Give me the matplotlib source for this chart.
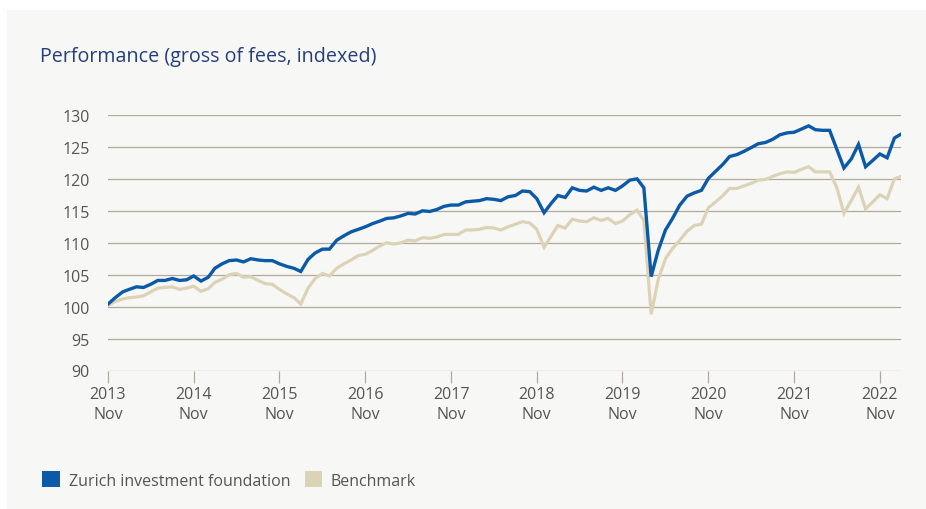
import matplotlib
matplotlib.use("Agg")
import matplotlib.pyplot as plt
from matplotlib.patches import Patch, Rectangle
import pandas as pd

# monthly index levels, Nov 2013 = start
months = pd.date_range("2013-11-30", periods=112, freq="ME")

foundation = [
    100.4, 101.4, 102.3, 102.7, 103.1, 103.0, 103.5, 104.1, 104.1, 104.4,
    104.1, 104.2, 104.8, 104.0, 104.6, 106.0, 106.7, 107.2, 107.3, 107.0,
    107.5, 107.3, 107.2, 107.2, 106.7, 106.3, 106.0, 105.5, 107.4, 108.4,
    109.0, 109.0, 110.4, 111.1, 111.7, 112.1, 112.5, 113.0, 113.4, 113.8,
    113.9, 114.2, 114.6, 114.5, 115.0, 114.9, 115.2, 115.7, 115.9, 115.9,
    116.4, 116.5, 116.6, 116.9, 116.8, 116.6, 117.2, 117.4, 118.1, 118.0,
    116.9, 114.7, 116.2, 117.4, 117.1, 118.6, 118.2, 118.1, 118.7, 118.2,
    118.6, 118.2, 118.9, 119.8, 120.0, 118.6, 104.7, 108.8, 112.0, 113.8,
    115.9, 117.3, 117.8, 118.2, 120.1, 121.2, 122.3, 123.5, 123.8, 124.3,
    124.9, 125.5, 125.7, 126.2, 126.9, 127.2, 127.3, 127.8, 128.3, 127.7,
    127.6, 127.6, 124.6, 121.7, 123.1, 125.4, 121.9, 122.9, 123.9, 123.3,
    126.4, 127.0,
]

benchmark = [
    100.2, 100.8, 101.2, 101.4, 101.5, 101.7, 102.3, 102.9, 103.0, 103.1,
    102.7, 102.9, 103.2, 102.4, 102.8, 103.8, 104.3, 105.0, 105.2, 104.6,
    104.7, 104.1, 103.6, 103.5, 102.7, 102.0, 101.4, 100.4, 102.9, 104.4,
    105.2, 104.8, 106.0, 106.7, 107.3, 108.0, 108.2, 108.8, 109.5, 110.0,
    109.8, 110.0, 110.4, 110.3, 110.8, 110.7, 110.9, 111.3, 111.3, 111.3,
    112.0, 112.0, 112.1, 112.4, 112.3, 112.0, 112.5, 112.9, 113.3, 113.1,
    112.1, 109.3, 111.1, 112.7, 112.3, 113.7, 113.4, 113.3, 113.9, 113.5,
    113.8, 113.0, 113.4, 114.4, 115.1, 113.5, 98.8, 104.2, 107.5, 109.1,
    110.4, 111.8, 112.7, 112.9, 115.5, 116.4, 117.4, 118.5, 118.5, 118.9,
    119.3, 119.8, 119.9, 120.4, 120.8, 121.1, 121.0, 121.5, 121.9, 121.1,
    121.1, 121.1, 118.6, 114.6, 116.6, 118.7, 115.3, 116.4, 117.5, 116.9,
    120.0, 120.4,
]

yticks = [90, 95, 100, 105, 110, 115, 120, 125, 130]
year_labels = ["2013", "2014", "2015", "2016", "2017", "2018", "2019", "2020", "2021", "2022"]
series_names = ["Zurich investment foundation", "Benchmark"]

BLUE = "#0a5aa8"
SAND = "#dcd3b7"
GRID = "#b3a99e"
TEXT = "#555555"
PANEL = "#f7f7f5"

plt.rcParams["font.family"] = ["Open Sans", "DejaVu Sans"]

fig = plt.figure(figsize=(9.26, 5.10), dpi=100)
fig.patch.set_facecolor("white")
# grey card behind everything
fig.patches.append(Rectangle((7 / 926, 0), 1, 1 - 11 / 510, transform=fig.transFigure,
                             facecolor=PANEL, edgecolor="none", zorder=-10))

ax = fig.add_axes([108 / 926, 1 - 371.5 / 510, 793 / 926, 255.5 / 510])
ax.set_facecolor("none")
ax.set_zorder(1)

ax.plot(months, benchmark, color=SAND, lw=2.3, solid_joinstyle="miter", zorder=3)
ax.plot(months, foundation, color=BLUE, lw=2.4, solid_joinstyle="miter", zorder=4)

ax.set_ylim(90, 130)
ax.set_xlim(months[0], months[-1])
ax.set_yticks(yticks)
ax.set_yticklabels([str(v) for v in yticks])

nov_ticks = [m for m in months if m.month == 11]
ax.set_xticks(nov_ticks)
ax.set_xticklabels([f"{y}\nNov" for y in year_labels], linespacing=1.3)

ax.grid(axis="y", color=GRID, lw=0.9)
ax.grid(axis="x", visible=False)
for s in ax.spines.values():
    s.set_visible(False)
ax.tick_params(axis="y", length=0, pad=13, labelsize=11.5, labelcolor=TEXT)
ax.tick_params(axis="x", length=8.5, width=0.9, color=GRID, pad=3, labelsize=11.5, labelcolor=TEXT)

fig.text(40 / 926, 1 - 62 / 510, "Performance (gross of fees, indexed)", fontsize=14.2,
         color="#23407c", va="baseline", ha="left")

handles = [Patch(facecolor=BLUE, edgecolor="none", label=series_names[0]),
           Patch(facecolor=SAND, edgecolor="none", label=series_names[1])]
leg = fig.legend(handles=handles, loc="center left", bbox_to_anchor=(36 / 926, 1 - 481 / 510),
                 ncol=2, frameon=False, fontsize=11.5, handlelength=1.1, handleheight=1.1,
                 handletextpad=0.55, columnspacing=0.9, borderaxespad=0)
for t in leg.get_texts():
    t.set_color(TEXT)

fig.savefig("out.png", dpi=100)
